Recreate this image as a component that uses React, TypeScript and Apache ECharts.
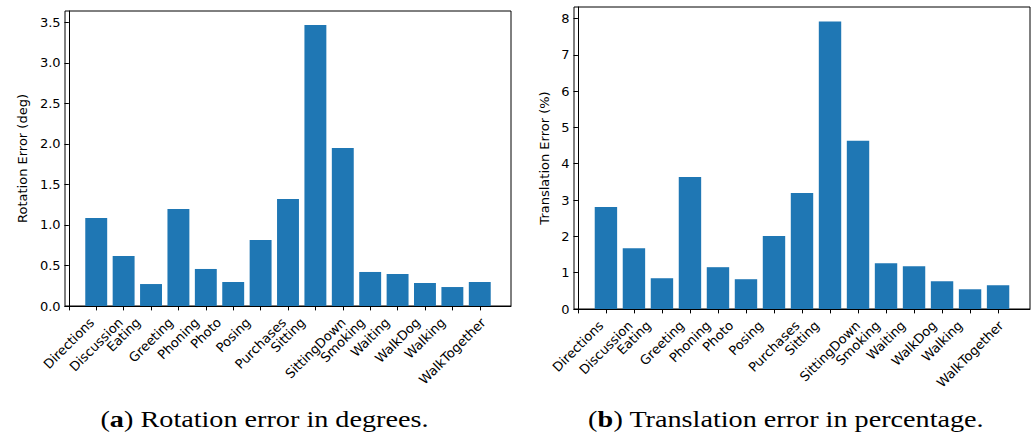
import React, { useEffect, useRef } from "react";
import * as echarts from "echarts";

// Per-action pose errors
const categories = [
  "Directions", "Discussion", "Eating", "Greeting", "Phoning", "Photo", "Posing",
  "Purchases", "Sitting", "SittingDown", "Smoking", "Waiting", "WalkDog", "Walking", "WalkTogether",
];
const rotationError = [1.086, 0.617, 0.271, 1.197, 0.457, 0.296, 0.814, 1.32, 3.467, 1.949, 0.42, 0.395, 0.284, 0.234, 0.296];
const translationError = [2.808, 1.676, 0.847, 3.637, 1.151, 0.82, 2.007, 3.195, 7.919, 4.632, 1.262, 1.179, 0.764, 0.543, 0.654];
const rotationTicks = [0, 0.5, 1, 1.5, 2, 2.5, 3, 3.5];
const translationTicks = [0, 1, 2, 3, 4, 5, 6, 7, 8];

const BAR_COLOR = "#1f77b4";
const FONT = "DejaVu Sans";
const FS = 13;
const TICK_LEN = 4.4;
const TICK_PAD = 4.4;
const CAPTION_FONT = "Liberation Serif";
const CAPTION_FS = 23.5;
const CAPTION_STRETCH = 1.2;

const panels = [
  {
    grid: { left: 65, top: 11, width: 446, height: 295 },
    name: "Rotation Error (deg)",
    nameGap: 36,
    values: rotationError,
    ticks: rotationTicks,
    digits: 1,
    caption: { id: "a", text: ") Rotation error in degrees.", x: 264.5 },
  },
  {
    grid: { left: 574, top: 7, width: 456, height: 302 },
    name: "Translation Error (%)",
    nameGap: 23,
    values: translationError,
    ticks: translationTicks,
    digits: 0,
    caption: { id: "b", text: ") Translation error in percentage.", x: 786 },
  },
];

// Bars sit at 1..n with width 0.8; the x range gets a 5% margin on each side.
const n = categories.length;
const barLo = 1 - 0.4;
const barHi = n + 0.4;
const margin = (barHi - barLo) * 0.05;
const xMin = barLo - margin;
const xMax = barHi + margin;
const tickPositions = Array.from({ length: n + 1 }, (_, i) => i);

export default function App() {
  const ref = useRef<HTMLDivElement>(null);

  useEffect(() => {
    if (!ref.current) return;
    const chart = echarts.init(ref.current, null, { renderer: "svg" });

    const axisLine = { show: true, lineStyle: { color: "#000", width: 1 } };
    const axisTick = { show: true, length: TICK_LEN, lineStyle: { color: "#000", width: 1 } };

    chart.setOption({
      animation: false,
      backgroundColor: "#fff",
      grid: panels.map((p) => ({
        ...p.grid,
        show: true,
        borderColor: "#000",
        borderWidth: 1,
        backgroundColor: "transparent",
        containLabel: false,
      })),
      xAxis: panels.map((p, pi) => ({
        type: "value",
        gridIndex: pi,
        min: xMin,
        max: xMax,
        axisLine,
        axisTick: { ...axisTick, customValues: tickPositions },
        axisLabel: { show: false },
        splitLine: { show: false },
      })),
      yAxis: panels.map((p, pi) => ({
        type: "value",
        gridIndex: pi,
        min: 0,
        max: Math.max(...p.values) * 1.05,
        axisLine,
        axisTick: { ...axisTick, customValues: p.ticks },
        axisLabel: {
          customValues: p.ticks,
          formatter: (v: number) => v.toFixed(p.digits),
          fontFamily: FONT,
          fontSize: FS,
          color: "#000",
          margin: TICK_PAD,
        },
        splitLine: { show: false },
        name: p.name,
        nameLocation: "middle",
        nameGap: p.nameGap,
        nameTextStyle: { fontFamily: FONT, fontSize: FS, color: "#000" },
      })),
      series: panels.map((p, pi) => ({
        type: "bar",
        xAxisIndex: pi,
        yAxisIndex: pi,
        data: p.values.map((v, i) => [i + 1, v]),
        barWidth: (0.8 * p.grid.width) / (xMax - xMin),
        itemStyle: { color: BAR_COLOR },
      })),
    });

    // Rotated category labels, each centred horizontally on its tick with its box top under the axis.
    const ctx = document.createElement("canvas").getContext("2d")!;
    ctx.font = `${FS}px "${FONT}"`;
    const lineH = FS * 1.164;
    const s = Math.SQRT1_2;
    const graphics: any[] = [];
    panels.forEach((p, pi) => {
      const top = p.grid.top + p.grid.height + TICK_LEN + TICK_PAD;
      categories.forEach((c, i) => {
        const px = chart.convertToPixel({ xAxisIndex: pi }, i) as number;
        const w = ctx.measureText(c).width;
        const boxH = (w + lineH) * s;
        graphics.push({
          type: "text",
          x: px,
          y: top + boxH / 2,
          rotation: Math.PI / 4,
          style: {
            text: c,
            align: "center",
            verticalAlign: "middle",
            fontFamily: FONT,
            fontSize: FS,
            fill: "#000",
          },
        });
      });
      graphics.push({
        type: "text",
        x: p.caption.x,
        y: 419,
        scaleX: CAPTION_STRETCH,
        style: {
          text: `{p|(}{b|${p.caption.id}}{p|${p.caption.text}}`,
          align: "center",
          verticalAlign: "middle",
          rich: {
            p: { fontFamily: CAPTION_FONT, fontSize: CAPTION_FS, fill: "#000" },
            b: { fontFamily: CAPTION_FONT, fontSize: CAPTION_FS, fontWeight: "bold", fill: "#000" },
          },
        },
      });
    });
    chart.setOption({ graphic: graphics });

    return () => chart.dispose();
  }, []);

  return (
    <div
      ref={ref}
      style={{ position: "absolute", left: 0, top: 0, width: 1032, height: 439, background: "#fff" }}
    />
  );
}
